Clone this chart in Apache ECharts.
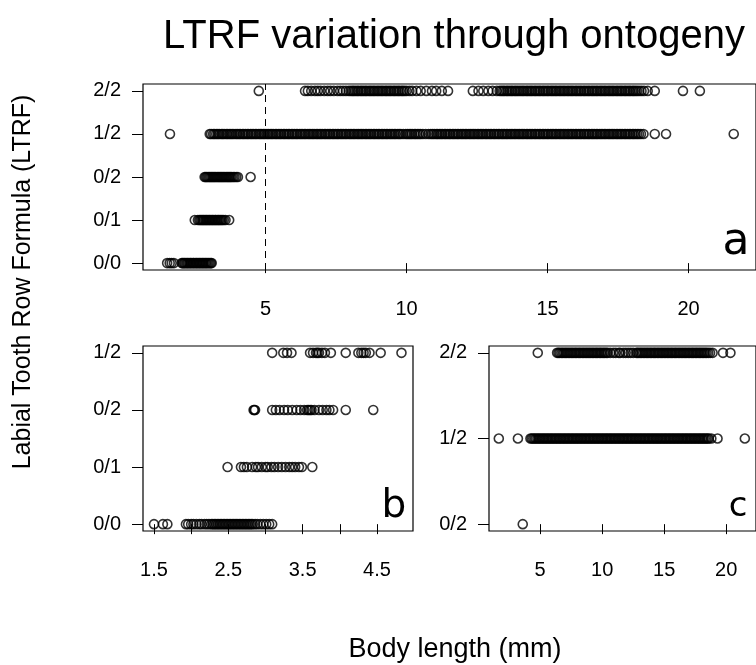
<!DOCTYPE html>
<html><head><meta charset="utf-8">
<script src="https://cdn.jsdelivr.net/npm/echarts@6/dist/echarts.min.js"></script>
<style>html,body{margin:0;padding:0;background:#fff}#c{width:756px;height:665px}</style>
</head><body><div id="c"></div>
<script>
// ---------- Data ----------
const levelsA = ['0/0', '0/1', '0/2', '1/2', '2/2'];
const levelsB = ['0/0', '0/1', '0/2', '1/2'];
const levelsC = ['0/2', '1/2', '2/2'];

const ticksAC = [5, 10, 15, 20];
const ticksB = [1.5, 2.0, 2.5, 3.0, 3.5, 4.0, 4.5];
const labelsB = [1.5, 2.5, 3.5, 4.5];

// Panel a (body length in mm per LTRF class)
const a00 = [1.51, 1.6, 1.67, 1.75, 2.03, 2.06, 2.1, 2.13, 2.17, 2.21, 2.24, 2.28, 2.32, 2.35, 2.39, 2.43, 2.46, 2.5, 2.54, 2.57,
  2.61, 2.65, 2.68, 2.72, 2.76, 2.79, 2.83, 2.87, 2.9, 2.94, 2.98, 3.02, 3.06, 3.09];
const a01 = [2.49, 2.6, 2.65, 2.69, 2.73, 2.77, 2.8, 2.84, 2.88, 2.91, 2.95, 2.99, 3.02, 3.06, 3.1, 3.13, 3.17, 3.21, 3.24, 3.28,
  3.32, 3.35, 3.39, 3.43, 3.47, 3.52, 3.58, 3.71];
const a02 = [2.84, 2.88, 2.92, 2.96, 3.0, 3.04, 3.08, 3.12, 3.16, 3.2, 3.24, 3.28, 3.32, 3.36, 3.4, 3.44, 3.48, 3.52, 3.56, 3.6,
  3.64, 3.68, 3.72, 3.76, 3.8, 3.85, 3.9, 3.96, 4.02, 4.47];
const a12 = [1.61,
  3.02, 3.07, 3.14, 3.19, 3.25, 3.31, 3.36, 3.43, 3.48, 3.53, 3.6, 3.65, 3.71, 3.77, 3.82, 3.88, 3.95,
  4.0, 4.06, 4.11, 4.18, 4.23, 4.29, 4.35, 4.4, 4.47, 4.52, 4.58, 4.64, 4.69, 4.76, 4.81, 4.87, 4.93, 4.98,
  5.05, 5.1, 5.16, 5.22, 5.27, 5.34, 5.39, 5.45, 5.51, 5.56, 5.63, 5.68, 5.74, 5.8, 5.85, 5.92, 5.97,
  6.03, 6.09, 6.14, 6.21, 6.26, 6.32, 6.38, 6.43, 6.5, 6.55, 6.61, 6.67, 6.72, 6.79, 6.84, 6.9, 6.96,
  7.01, 7.08, 7.13, 7.19, 7.25, 7.3, 7.37, 7.42, 7.48, 7.54, 7.59, 7.66, 7.71, 7.77, 7.83, 7.88, 7.95,
  8.0, 8.06, 8.12, 8.17, 8.24, 8.29, 8.35, 8.41, 8.46, 8.53, 8.58, 8.64, 8.7, 8.75, 8.82, 8.87, 8.93, 8.99,
  9.04, 9.11, 9.16, 9.22, 9.28, 9.33, 9.4, 9.45, 9.51, 9.57, 9.62, 9.69, 9.74, 9.8, 9.88, 9.97,
  10.03, 10.09, 10.15, 10.2, 10.27, 10.32, 10.38, 10.44, 10.5, 10.58, 10.68, 10.78, 10.86, 10.92, 10.98,
  11.05, 11.1, 11.16, 11.22, 11.27, 11.34, 11.39, 11.45, 11.51, 11.56, 11.63, 11.68, 11.74, 11.8, 11.85, 11.92, 11.97,
  12.03, 12.09, 12.14, 12.21, 12.26, 12.32, 12.38, 12.43, 12.5, 12.55, 12.61, 12.67, 12.72, 12.79, 12.84, 12.9, 12.96,
  13.01, 13.08, 13.13, 13.19, 13.25, 13.3, 13.37, 13.42, 13.48, 13.54, 13.59, 13.66, 13.71, 13.77, 13.83, 13.88, 13.95,
  14.0, 14.06, 14.12, 14.17, 14.24, 14.29, 14.35, 14.41, 14.46, 14.53, 14.58, 14.64, 14.7, 14.75, 14.82, 14.87, 14.93, 14.99,
  15.04, 15.11, 15.16, 15.22, 15.28, 15.33, 15.4, 15.45, 15.51, 15.57, 15.62, 15.69, 15.74, 15.8, 15.86, 15.91, 15.98,
  16.03, 16.09, 16.15, 16.2, 16.27, 16.32, 16.38, 16.44, 16.49, 16.56, 16.61, 16.67, 16.73, 16.78, 16.85, 16.9, 16.96,
  17.02, 17.07, 17.14, 17.19, 17.25, 17.31, 17.36, 17.43, 17.48, 17.54, 17.6, 17.65, 17.72, 17.77, 17.83, 17.89, 17.94,
  18.01, 18.06, 18.12, 18.18, 18.24, 18.31, 18.4, 18.8, 19.2, 21.6];
const a22 = [4.76, 6.4, 6.5, 6.62, 6.75, 6.85, 6.95, 7.08, 7.2, 7.3, 7.42, 7.55, 7.65, 7.75, 7.85, 7.95,
  8.02, 8.08, 8.13, 8.19, 8.25, 8.3, 8.37, 8.42, 8.48, 8.54, 8.59, 8.66, 8.71, 8.77, 8.83, 8.88, 8.95,
  9.0, 9.06, 9.12, 9.17, 9.24, 9.29, 9.35, 9.41, 9.46, 9.53, 9.58, 9.64, 9.7, 9.75, 9.82, 9.87, 9.93,
  10.0, 10.1, 10.2, 10.35, 10.5, 10.7, 10.9, 11.05, 11.25, 11.47,
  12.35, 12.55, 12.72, 12.9, 13.05, 13.2, 13.3,
  13.36, 13.42, 13.47, 13.54, 13.59, 13.65, 13.71, 13.76, 13.83, 13.88, 13.94,
  14.0, 14.06, 14.12, 14.17, 14.24, 14.29, 14.35, 14.41, 14.46, 14.53, 14.58, 14.64, 14.7, 14.75, 14.82, 14.87, 14.93, 14.99,
  15.04, 15.11, 15.16, 15.22, 15.28, 15.33, 15.4, 15.45, 15.51, 15.57, 15.62, 15.69, 15.74, 15.8, 15.86, 15.91, 15.98,
  16.03, 16.09, 16.15, 16.2, 16.27, 16.32, 16.38, 16.44, 16.49, 16.56, 16.61, 16.67, 16.73, 16.78, 16.85, 16.9, 16.96,
  17.02, 17.07, 17.14, 17.19, 17.25, 17.31, 17.36, 17.43, 17.48, 17.54, 17.6, 17.65, 17.72, 17.77, 17.83, 17.89, 17.94,
  18.01, 18.06, 18.12, 18.18, 18.25, 18.33, 18.42, 18.55, 18.8, 19.8, 20.4];

// Panel b
const b00 = [1.5, 1.62, 1.68, 1.93, 1.96, 2.0, 2.03, 2.07, 2.11, 2.14, 2.18, 2.21, 2.24, 2.27, 2.29, 2.31, 2.33, 2.35, 2.37,
  2.39, 2.41, 2.43, 2.45, 2.47, 2.49, 2.51, 2.53, 2.55, 2.57, 2.59, 2.61, 2.63, 2.65, 2.67, 2.69, 2.71, 2.73, 2.75, 2.77,
  2.79, 2.81, 2.83, 2.86, 2.89, 2.93, 2.97, 3.01, 3.05, 3.09];
const b01 = [2.49, 2.67, 2.71, 2.75, 2.82, 2.87, 2.9, 2.95, 3.0, 3.03, 3.08, 3.12, 3.17, 3.22, 3.27, 3.32, 3.36, 3.4, 3.45, 3.49, 3.63];
const b02 = [2.84, 2.85, 2.86, 3.09, 3.14, 3.19, 3.25, 3.3, 3.36, 3.42, 3.47, 3.52, 3.56, 3.58, 3.6, 3.62, 3.66, 3.72, 3.77, 3.82,
  3.86, 3.91, 4.08, 4.45];
const b12 = [3.09, 3.24, 3.29, 3.35, 3.6, 3.64, 3.68, 3.7, 3.72, 3.76, 3.8, 3.88, 4.08, 4.25, 4.29, 4.32, 4.35, 4.4, 4.55, 4.83];

// Panel c
const c02 = [3.6];
const c12 = [1.67, 3.21, 4.22, 4.33, 4.45, 4.56, 4.67, 4.79, 4.9, 5.01, 5.13, 5.24, 5.35, 5.47, 5.58, 5.69, 5.81, 5.92, 6.03, 6.15,
  6.26, 6.37, 6.49, 6.6, 6.71, 6.83, 6.94, 7.05, 7.17, 7.28, 7.39, 7.51, 7.62, 7.73, 7.85, 7.96, 8.07, 8.19, 8.3, 8.41,
  8.53, 8.64, 8.75, 8.87, 8.98, 9.09, 9.21, 9.32, 9.43, 9.55, 9.66, 9.77, 9.89, 10.0, 10.11, 10.23, 10.34, 10.45, 10.57, 10.68,
  10.79, 10.91, 11.02, 11.13, 11.25, 11.36, 11.47, 11.59, 11.7, 11.81, 11.93, 12.04, 12.15, 12.27, 12.38, 12.49, 12.61, 12.72, 12.83, 12.95,
  13.06, 13.17, 13.29, 13.4, 13.51, 13.63, 13.74, 13.85, 13.97, 14.08, 14.19, 14.31, 14.42, 14.53, 14.65, 14.76, 14.87, 14.99, 15.1, 15.21,
  15.33, 15.44, 15.55, 15.67, 15.78, 15.89, 16.01, 16.12, 16.23, 16.35, 16.46, 16.57, 16.69, 16.8, 16.91, 17.03, 17.14, 17.25, 17.37, 17.48,
  17.59, 17.71, 17.82, 17.93, 18.05, 18.16, 18.27, 18.39, 18.5, 18.6, 18.8, 19.3, 21.5];
const c22 = [4.81, 6.37, 6.48, 6.59, 6.71, 6.82, 6.93, 7.05, 7.16, 7.27, 7.39, 7.5, 7.61, 7.73, 7.84, 7.95, 8.07, 8.18, 8.29, 8.41,
  8.52, 8.63, 8.75, 8.86, 8.97, 9.09, 9.2, 9.31, 9.43, 9.54, 9.65, 9.77, 9.88, 9.99, 10.11, 10.22, 10.33, 10.45, 10.65, 10.9,
  11.1, 11.35, 11.45, 11.7, 11.9, 12.1, 12.3, 12.5, 12.75, 12.86, 12.97, 13.09, 13.2, 13.31, 13.43, 13.54, 13.65, 13.77, 13.88, 13.99,
  14.11, 14.22, 14.33, 14.45, 14.56, 14.67, 14.79, 14.9, 15.01, 15.13, 15.24, 15.35, 15.47, 15.58, 15.69, 15.81, 15.92, 16.03, 16.15, 16.26,
  16.37, 16.49, 16.6, 16.71, 16.83, 16.94, 17.05, 17.17, 17.28, 17.39, 17.51, 17.62, 17.73, 17.85, 17.96, 18.07, 18.19, 18.3, 18.42, 18.55,
  18.7, 18.9, 19.74, 20.34];

// ---------- Build ----------
const FONT = '"Liberation Sans", Arial, Helvetica, sans-serif';
function rows(lists) {
  const out = [];
  lists.forEach((xs, level) => xs.forEach(x => out.push([x, level])));
  return out;
}
const dataA = rows([a00, a01, a02, a12, a22]);
const dataB = rows([b00, b01, b02, b12]);
const dataC = rows([c02, c12, c22]);

function xAxisCfg(gi, min, max, ticks, labels, fmt) {
  return {
    gridIndex: gi, type: 'value', min: min, max: max, offset: 3,
    axisLine: { show: false }, splitLine: { show: false },
    axisTick: { show: true, length: 10, customValues: ticks, lineStyle: { color: '#000', width: 1 } },
    axisLabel: { customValues: labels, margin: 26, fontSize: 20, color: '#000', fontFamily: FONT, formatter: fmt }
  };
}
function yAxisCfg(gi, levels, pad) {
  const vals = levels.map((_, i) => i);
  return {
    gridIndex: gi, type: 'value', min: -pad, max: levels.length - 1 + pad,
    axisLine: { show: false }, splitLine: { show: false },
    axisTick: { show: true, length: 11, customValues: vals, lineStyle: { color: '#000', width: 1 } },
    axisLabel: { customValues: vals, margin: 22, fontSize: 20, color: '#000', fontFamily: FONT,
      formatter: v => levels[Math.round(v)] }
  };
}
const pointStyle = {
  type: 'scatter', symbol: 'circle', symbolSize: 9, silent: true, large: false,
  itemStyle: { color: 'rgba(0,0,0,0)', borderColor: '#000', borderWidth: 1.6 },
  emphasis: { disabled: true }
};
const gridBase = { show: true, borderColor: '#000', borderWidth: 1.2, backgroundColor: 'transparent' };

const option = {
  animation: false,
  backgroundColor: '#fff',
  grid: [
    Object.assign({ left: 143, top: 84, width: 615, height: 186 }, gridBase),
    Object.assign({ left: 143, top: 346, width: 270, height: 185 }, gridBase),
    Object.assign({ left: 489, top: 346, width: 270, height: 185 }, gridBase)
  ],
  xAxis: [
    xAxisCfg(0, 0.654, 22.39, ticksAC, ticksAC, v => String(v)),
    xAxisCfg(1, 1.352, 4.985, ticksB, labelsB, v => v.toFixed(1)),
    xAxisCfg(2, 0.88, 22.4, ticksAC, ticksAC, v => String(v))
  ],
  yAxis: [
    yAxisCfg(0, levelsA, 0.16),
    yAxisCfg(1, levelsB, 0.12),
    yAxisCfg(2, levelsC, 0.08)
  ],
  series: [
    Object.assign({ xAxisIndex: 0, yAxisIndex: 0, data: dataA,
      markLine: { silent: true, symbol: 'none', label: { show: false },
        lineStyle: { type: [7, 5], color: '#000', width: 1 }, data: [{ xAxis: 5 }] } }, pointStyle),
    Object.assign({ xAxisIndex: 1, yAxisIndex: 1, data: dataB }, pointStyle),
    Object.assign({ xAxisIndex: 2, yAxisIndex: 2, data: dataC }, pointStyle)
  ],
  graphic: [
    { type: 'text', x: 454, y: 37, style: { text: 'LTRF variation through ontogeny', font: '40px ' + FONT, fill: '#000', textAlign: 'center', textVerticalAlign: 'middle' } },
    { type: 'text', x: 23, y: 282, rotation: Math.PI / 2, style: { text: 'Labial Tooth Row Formula (LTRF)', font: '25px ' + FONT, fill: '#000', textAlign: 'center', textVerticalAlign: 'middle' } },
    { type: 'text', x: 455, y: 650, style: { text: 'Body length (mm)', font: '27px ' + FONT, fill: '#000', textAlign: 'center', textVerticalAlign: 'middle' } },
    { type: 'text', x: 736, y: 265, style: { text: 'a', font: '44px "DejaVu Sans", sans-serif', fill: '#000', textAlign: 'center', textVerticalAlign: 'bottom' } },
    { type: 'text', x: 394, y: 526, style: { text: 'b', font: '39px "DejaVu Sans", sans-serif', fill: '#000', textAlign: 'center', textVerticalAlign: 'bottom' } },
    { type: 'text', x: 738, y: 524, style: { text: 'c', font: '34px "DejaVu Sans", sans-serif', fill: '#000', textAlign: 'center', textVerticalAlign: 'bottom' } }
  ]
};
const chart = echarts.init(document.getElementById('c'));
chart.setOption(option);
</script>
</body></html>
